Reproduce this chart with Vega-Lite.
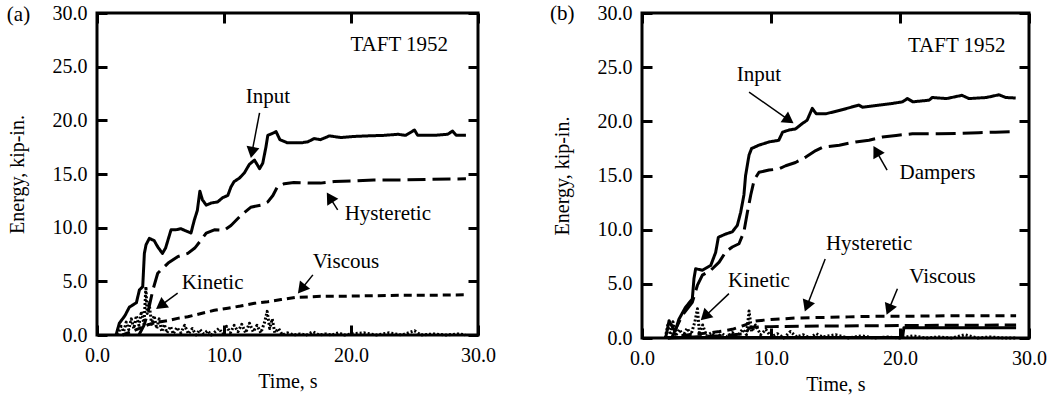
{
"$schema": "https://vega.github.io/schema/vega-lite/v6.json",
"padding": {"left": 5, "top": 1, "right": 5, "bottom": 5},
"background": "white",
"datasets": {
"curves": [
{"p":"a","s":"Input","t":1.5,"E":0},{"p":"a","s":"Input","t":1.76,"E":1.1},{"p":"a","s":"Input","t":2.2,"E":1.8},{"p":"a","s":"Input","t":2.55,"E":2.6},{"p":"a","s":"Input","t":2.82,"E":2.8},{"p":"a","s":"Input","t":3.1,"E":3.0},{"p":"a","s":"Input","t":3.34,"E":4.2},{"p":"a","s":"Input","t":3.6,"E":4.5},{"p":"a","s":"Input","t":3.73,"E":7.6},{"p":"a","s":"Input","t":3.86,"E":8.4},{"p":"a","s":"Input","t":4.12,"E":9.0},{"p":"a","s":"Input","t":4.5,"E":8.8},{"p":"a","s":"Input","t":4.76,"E":8.25},{"p":"a","s":"Input","t":5.15,"E":7.6},{"p":"a","s":"Input","t":5.4,"E":8.1},{"p":"a","s":"Input","t":5.83,"E":9.8},{"p":"a","s":"Input","t":6.2,"E":9.8},{"p":"a","s":"Input","t":6.6,"E":9.9},{"p":"a","s":"Input","t":7.0,"E":9.7},{"p":"a","s":"Input","t":7.4,"E":9.5},{"p":"a","s":"Input","t":7.66,"E":10.7},{"p":"a","s":"Input","t":7.9,"E":11.6},{"p":"a","s":"Input","t":8.1,"E":13.4},{"p":"a","s":"Input","t":8.3,"E":12.6},{"p":"a","s":"Input","t":8.6,"E":12.1},{"p":"a","s":"Input","t":9.0,"E":12.3},{"p":"a","s":"Input","t":9.5,"E":12.4},{"p":"a","s":"Input","t":9.9,"E":12.8},{"p":"a","s":"Input","t":10.3,"E":13.0},{"p":"a","s":"Input","t":10.55,"E":13.8},{"p":"a","s":"Input","t":10.8,"E":14.3},{"p":"a","s":"Input","t":11.2,"E":14.6},{"p":"a","s":"Input","t":11.6,"E":15.1},{"p":"a","s":"Input","t":12.0,"E":15.9},{"p":"a","s":"Input","t":12.4,"E":16.3},{"p":"a","s":"Input","t":12.8,"E":15.5},{"p":"a","s":"Input","t":13.05,"E":16.0},{"p":"a","s":"Input","t":13.3,"E":17.5},{"p":"a","s":"Input","t":13.45,"E":18.6},{"p":"a","s":"Input","t":13.85,"E":18.8},{"p":"a","s":"Input","t":14.1,"E":18.95},{"p":"a","s":"Input","t":14.4,"E":18.2},{"p":"a","s":"Input","t":15.0,"E":17.9},{"p":"a","s":"Input","t":16.05,"E":17.9},{"p":"a","s":"Input","t":16.6,"E":18.0},{"p":"a","s":"Input","t":17.1,"E":18.3},{"p":"a","s":"Input","t":17.6,"E":18.2},{"p":"a","s":"Input","t":18.3,"E":18.55},{"p":"a","s":"Input","t":19.2,"E":18.4},{"p":"a","s":"Input","t":20.3,"E":18.5},{"p":"a","s":"Input","t":21.3,"E":18.55},{"p":"a","s":"Input","t":22.6,"E":18.6},{"p":"a","s":"Input","t":23.7,"E":18.7},{"p":"a","s":"Input","t":24.3,"E":18.6},{"p":"a","s":"Input","t":25.0,"E":19.1},{"p":"a","s":"Input","t":25.25,"E":18.6},{"p":"a","s":"Input","t":26.6,"E":18.6},{"p":"a","s":"Input","t":27.6,"E":18.7},{"p":"a","s":"Input","t":28.0,"E":19.0},{"p":"a","s":"Input","t":28.3,"E":18.6},{"p":"a","s":"Input","t":29.05,"E":18.6},
{"p":"a","s":"Hysteretic","t":3.3,"E":0},{"p":"a","s":"Hysteretic","t":3.7,"E":0.9},{"p":"a","s":"Hysteretic","t":3.99,"E":2.0},{"p":"a","s":"Hysteretic","t":4.4,"E":4.2},{"p":"a","s":"Hysteretic","t":4.78,"E":5.75},{"p":"a","s":"Hysteretic","t":5.6,"E":6.7},{"p":"a","s":"Hysteretic","t":6.35,"E":7.3},{"p":"a","s":"Hysteretic","t":7.15,"E":7.6},{"p":"a","s":"Hysteretic","t":7.7,"E":8.1},{"p":"a","s":"Hysteretic","t":8.2,"E":8.85},{"p":"a","s":"Hysteretic","t":8.6,"E":9.5},{"p":"a","s":"Hysteretic","t":9.24,"E":9.8},{"p":"a","s":"Hysteretic","t":10.0,"E":9.75},{"p":"a","s":"Hysteretic","t":10.55,"E":10.2},{"p":"a","s":"Hysteretic","t":11.3,"E":11.1},{"p":"a","s":"Hysteretic","t":12.1,"E":11.9},{"p":"a","s":"Hysteretic","t":12.9,"E":12.1},{"p":"a","s":"Hysteretic","t":13.45,"E":12.4},{"p":"a","s":"Hysteretic","t":13.85,"E":13.0},{"p":"a","s":"Hysteretic","t":14.2,"E":13.8},{"p":"a","s":"Hysteretic","t":14.75,"E":14.1},{"p":"a","s":"Hysteretic","t":15.5,"E":14.2},{"p":"a","s":"Hysteretic","t":16.6,"E":14.15},{"p":"a","s":"Hysteretic","t":17.6,"E":14.15},{"p":"a","s":"Hysteretic","t":18.7,"E":14.3},{"p":"a","s":"Hysteretic","t":20.3,"E":14.35},{"p":"a","s":"Hysteretic","t":21.8,"E":14.45},{"p":"a","s":"Hysteretic","t":23.9,"E":14.45},{"p":"a","s":"Hysteretic","t":26.0,"E":14.5},{"p":"a","s":"Hysteretic","t":29.05,"E":14.55},
{"p":"a","s":"Viscous","t":2.0,"E":0},{"p":"a","s":"Viscous","t":3.0,"E":0.45},{"p":"a","s":"Viscous","t":4.0,"E":0.95},{"p":"a","s":"Viscous","t":4.8,"E":1.2},{"p":"a","s":"Viscous","t":5.6,"E":1.35},{"p":"a","s":"Viscous","t":6.35,"E":1.55},{"p":"a","s":"Viscous","t":7.15,"E":1.7},{"p":"a","s":"Viscous","t":8.2,"E":2.0},{"p":"a","s":"Viscous","t":9.24,"E":2.3},{"p":"a","s":"Viscous","t":10.3,"E":2.5},{"p":"a","s":"Viscous","t":11.3,"E":2.7},{"p":"a","s":"Viscous","t":12.4,"E":2.95},{"p":"a","s":"Viscous","t":13.45,"E":3.1},{"p":"a","s":"Viscous","t":14.5,"E":3.3},{"p":"a","s":"Viscous","t":15.6,"E":3.5},{"p":"a","s":"Viscous","t":16.6,"E":3.55},{"p":"a","s":"Viscous","t":17.6,"E":3.6},{"p":"a","s":"Viscous","t":18.7,"E":3.6},{"p":"a","s":"Viscous","t":21.3,"E":3.65},{"p":"a","s":"Viscous","t":23.9,"E":3.7},{"p":"a","s":"Viscous","t":26.0,"E":3.7},{"p":"a","s":"Viscous","t":29.05,"E":3.75},
{"p":"a","s":"Kinetic","t":1.6,"E":0},{"p":"a","s":"Kinetic","t":1.9,"E":0.8},{"p":"a","s":"Kinetic","t":2.1,"E":0.3},{"p":"a","s":"Kinetic","t":2.3,"E":1.2},{"p":"a","s":"Kinetic","t":2.5,"E":0.5},{"p":"a","s":"Kinetic","t":2.7,"E":1.5},{"p":"a","s":"Kinetic","t":2.9,"E":0.6},{"p":"a","s":"Kinetic","t":3.1,"E":1.8},{"p":"a","s":"Kinetic","t":3.3,"E":0.9},{"p":"a","s":"Kinetic","t":3.5,"E":2.2},{"p":"a","s":"Kinetic","t":3.7,"E":1.0},{"p":"a","s":"Kinetic","t":3.85,"E":4.5},{"p":"a","s":"Kinetic","t":3.95,"E":2.0},{"p":"a","s":"Kinetic","t":4.1,"E":3.0},{"p":"a","s":"Kinetic","t":4.3,"E":1.0},{"p":"a","s":"Kinetic","t":4.5,"E":1.8},{"p":"a","s":"Kinetic","t":4.7,"E":0.6},{"p":"a","s":"Kinetic","t":4.9,"E":1.5},{"p":"a","s":"Kinetic","t":5.1,"E":0.3},{"p":"a","s":"Kinetic","t":5.3,"E":1.0},{"p":"a","s":"Kinetic","t":5.5,"E":0.2},{"p":"a","s":"Kinetic","t":5.8,"E":0.8},{"p":"a","s":"Kinetic","t":6.0,"E":0.1},{"p":"a","s":"Kinetic","t":6.3,"E":0.7},{"p":"a","s":"Kinetic","t":6.6,"E":0.2},{"p":"a","s":"Kinetic","t":6.9,"E":0.9},{"p":"a","s":"Kinetic","t":7.2,"E":0.1},{"p":"a","s":"Kinetic","t":7.5,"E":0.6},{"p":"a","s":"Kinetic","t":7.8,"E":0.0},{"p":"a","s":"Kinetic","t":8.1,"E":0.5},{"p":"a","s":"Kinetic","t":8.4,"E":0.1},{"p":"a","s":"Kinetic","t":8.7,"E":0.4},{"p":"a","s":"Kinetic","t":9.0,"E":0.0},{"p":"a","s":"Kinetic","t":9.3,"E":0.3},{"p":"a","s":"Kinetic","t":9.6,"E":0.6},{"p":"a","s":"Kinetic","t":9.9,"E":0.1},{"p":"a","s":"Kinetic","t":10.2,"E":0.8},{"p":"a","s":"Kinetic","t":10.5,"E":0.2},{"p":"a","s":"Kinetic","t":10.8,"E":0.9},{"p":"a","s":"Kinetic","t":11.1,"E":0.3},{"p":"a","s":"Kinetic","t":11.4,"E":1.0},{"p":"a","s":"Kinetic","t":11.7,"E":0.2},{"p":"a","s":"Kinetic","t":12.0,"E":1.1},{"p":"a","s":"Kinetic","t":12.3,"E":0.3},{"p":"a","s":"Kinetic","t":12.6,"E":0.9},{"p":"a","s":"Kinetic","t":12.9,"E":0.2},{"p":"a","s":"Kinetic","t":13.2,"E":1.2},{"p":"a","s":"Kinetic","t":13.4,"E":2.2},{"p":"a","s":"Kinetic","t":13.6,"E":0.6},{"p":"a","s":"Kinetic","t":13.8,"E":1.5},{"p":"a","s":"Kinetic","t":14.0,"E":0.2},{"p":"a","s":"Kinetic","t":14.3,"E":0.6},{"p":"a","s":"Kinetic","t":14.6,"E":0.0},{"p":"a","s":"Kinetic","t":15.0,"E":0.2},{"p":"a","s":"Kinetic","t":15.5,"E":0.0},{"p":"a","s":"Kinetic","t":16.0,"E":0.1},{"p":"a","s":"Kinetic","t":16.5,"E":0.0},{"p":"a","s":"Kinetic","t":17.0,"E":0.3},{"p":"a","s":"Kinetic","t":17.5,"E":0.0},{"p":"a","s":"Kinetic","t":18.0,"E":0.1},{"p":"a","s":"Kinetic","t":18.5,"E":0.0},{"p":"a","s":"Kinetic","t":19.0,"E":0.2},{"p":"a","s":"Kinetic","t":19.5,"E":0.0},{"p":"a","s":"Kinetic","t":20.0,"E":0.1},{"p":"a","s":"Kinetic","t":21.0,"E":0.2},{"p":"a","s":"Kinetic","t":22.0,"E":0.0},{"p":"a","s":"Kinetic","t":23.0,"E":0.2},{"p":"a","s":"Kinetic","t":24.0,"E":0.0},{"p":"a","s":"Kinetic","t":25.0,"E":0.4},{"p":"a","s":"Kinetic","t":25.5,"E":0.0},{"p":"a","s":"Kinetic","t":26.5,"E":0.1},{"p":"a","s":"Kinetic","t":27.5,"E":0.0},{"p":"a","s":"Kinetic","t":28.5,"E":0.1},{"p":"a","s":"Kinetic","t":29.0,"E":0.0},
{"p":"b","s":"Input","t":1.83,"E":0},{"p":"b","s":"Input","t":2.1,"E":1.6},{"p":"b","s":"Input","t":2.4,"E":0.9},{"p":"b","s":"Input","t":2.6,"E":0.7},{"p":"b","s":"Input","t":2.85,"E":1.7},{"p":"b","s":"Input","t":3.38,"E":2.85},{"p":"b","s":"Input","t":3.9,"E":3.6},{"p":"b","s":"Input","t":4.03,"E":5.5},{"p":"b","s":"Input","t":4.16,"E":6.4},{"p":"b","s":"Input","t":4.68,"E":6.25},{"p":"b","s":"Input","t":5.33,"E":6.7},{"p":"b","s":"Input","t":5.71,"E":7.9},{"p":"b","s":"Input","t":5.92,"E":9.3},{"p":"b","s":"Input","t":6.49,"E":9.6},{"p":"b","s":"Input","t":7.0,"E":9.8},{"p":"b","s":"Input","t":7.39,"E":10.4},{"p":"b","s":"Input","t":7.65,"E":11.6},{"p":"b","s":"Input","t":7.9,"E":13.2},{"p":"b","s":"Input","t":8.03,"E":15.0},{"p":"b","s":"Input","t":8.3,"E":16.9},{"p":"b","s":"Input","t":8.5,"E":17.5},{"p":"b","s":"Input","t":9.07,"E":17.8},{"p":"b","s":"Input","t":9.85,"E":18.1},{"p":"b","s":"Input","t":10.6,"E":18.25},{"p":"b","s":"Input","t":10.9,"E":19.0},{"p":"b","s":"Input","t":11.4,"E":19.2},{"p":"b","s":"Input","t":11.9,"E":19.3},{"p":"b","s":"Input","t":12.43,"E":19.8},{"p":"b","s":"Input","t":12.8,"E":20.1},{"p":"b","s":"Input","t":13.2,"E":21.2},{"p":"b","s":"Input","t":13.5,"E":20.7},{"p":"b","s":"Input","t":14.25,"E":20.7},{"p":"b","s":"Input","t":15.3,"E":21.0},{"p":"b","s":"Input","t":16.8,"E":21.5},{"p":"b","s":"Input","t":17.1,"E":21.3},{"p":"b","s":"Input","t":18.4,"E":21.5},{"p":"b","s":"Input","t":19.4,"E":21.65},{"p":"b","s":"Input","t":20.2,"E":21.8},{"p":"b","s":"Input","t":20.57,"E":22.1},{"p":"b","s":"Input","t":21.0,"E":21.8},{"p":"b","s":"Input","t":22.25,"E":21.95},{"p":"b","s":"Input","t":22.5,"E":22.2},{"p":"b","s":"Input","t":23.6,"E":22.1},{"p":"b","s":"Input","t":24.8,"E":22.4},{"p":"b","s":"Input","t":25.35,"E":22.1},{"p":"b","s":"Input","t":26.7,"E":22.2},{"p":"b","s":"Input","t":27.67,"E":22.45},{"p":"b","s":"Input","t":28.2,"E":22.2},{"p":"b","s":"Input","t":28.97,"E":22.15},
{"p":"b","s":"Dampers","t":2.3,"E":0},{"p":"b","s":"Dampers","t":2.6,"E":0.8},{"p":"b","s":"Dampers","t":3.12,"E":2.1},{"p":"b","s":"Dampers","t":3.9,"E":3.3},{"p":"b","s":"Dampers","t":4.29,"E":4.85},{"p":"b","s":"Dampers","t":4.68,"E":5.8},{"p":"b","s":"Dampers","t":5.33,"E":6.25},{"p":"b","s":"Dampers","t":5.98,"E":7.0},{"p":"b","s":"Dampers","t":6.49,"E":7.95},{"p":"b","s":"Dampers","t":7.0,"E":8.4},{"p":"b","s":"Dampers","t":7.52,"E":8.7},{"p":"b","s":"Dampers","t":7.9,"E":9.8},{"p":"b","s":"Dampers","t":8.17,"E":11.6},{"p":"b","s":"Dampers","t":8.43,"E":13.2},{"p":"b","s":"Dampers","t":8.7,"E":14.6},{"p":"b","s":"Dampers","t":9.07,"E":15.3},{"p":"b","s":"Dampers","t":9.85,"E":15.5},{"p":"b","s":"Dampers","t":10.6,"E":15.6},{"p":"b","s":"Dampers","t":11.14,"E":15.9},{"p":"b","s":"Dampers","t":11.9,"E":16.2},{"p":"b","s":"Dampers","t":12.7,"E":16.7},{"p":"b","s":"Dampers","t":13.47,"E":17.3},{"p":"b","s":"Dampers","t":13.98,"E":17.6},{"p":"b","s":"Dampers","t":15.3,"E":17.8},{"p":"b","s":"Dampers","t":16.56,"E":18.1},{"p":"b","s":"Dampers","t":17.6,"E":18.25},{"p":"b","s":"Dampers","t":18.64,"E":18.55},{"p":"b","s":"Dampers","t":19.7,"E":18.7},{"p":"b","s":"Dampers","t":20.96,"E":18.85},{"p":"b","s":"Dampers","t":23.0,"E":18.85},{"p":"b","s":"Dampers","t":24.8,"E":18.9},{"p":"b","s":"Dampers","t":26.1,"E":18.95},{"p":"b","s":"Dampers","t":27.4,"E":19.0},{"p":"b","s":"Dampers","t":28.97,"E":19.05},
{"p":"b","s":"Viscous","t":2.0,"E":0},{"p":"b","s":"Viscous","t":3.0,"E":0.2},{"p":"b","s":"Viscous","t":4.0,"E":0.35},{"p":"b","s":"Viscous","t":5.0,"E":0.45},{"p":"b","s":"Viscous","t":6.0,"E":0.6},{"p":"b","s":"Viscous","t":7.0,"E":0.8},{"p":"b","s":"Viscous","t":8.0,"E":1.2},{"p":"b","s":"Viscous","t":8.5,"E":1.5},{"p":"b","s":"Viscous","t":9.0,"E":1.6},{"p":"b","s":"Viscous","t":10.0,"E":1.7},{"p":"b","s":"Viscous","t":12.0,"E":1.85},{"p":"b","s":"Viscous","t":14.0,"E":1.9},{"p":"b","s":"Viscous","t":16.0,"E":1.95},{"p":"b","s":"Viscous","t":18.0,"E":2.0},{"p":"b","s":"Viscous","t":20.0,"E":2.0},{"p":"b","s":"Viscous","t":24.0,"E":2.05},{"p":"b","s":"Viscous","t":29.0,"E":2.05},
{"p":"b","s":"Hysteretic","t":2.0,"E":0},{"p":"b","s":"Hysteretic","t":4.0,"E":0.1},{"p":"b","s":"Hysteretic","t":6.0,"E":0.2},{"p":"b","s":"Hysteretic","t":8.0,"E":0.4},{"p":"b","s":"Hysteretic","t":8.3,"E":0.9},{"p":"b","s":"Hysteretic","t":8.6,"E":1.0},{"p":"b","s":"Hysteretic","t":10.0,"E":1.05},{"p":"b","s":"Hysteretic","t":14.0,"E":1.1},{"p":"b","s":"Hysteretic","t":20.0,"E":1.15},{"p":"b","s":"Hysteretic","t":29.0,"E":1.2},
{"p":"b","s":"Other","t":1.8,"E":0.05},{"p":"b","s":"Other","t":20.2,"E":0.05},{"p":"b","s":"Other","t":20.3,"E":0.95},{"p":"b","s":"Other","t":29.0,"E":0.95},
{"p":"b","s":"Kinetic","t":1.8,"E":0},{"p":"b","s":"Kinetic","t":2.0,"E":1.2},{"p":"b","s":"Kinetic","t":2.2,"E":0.3},{"p":"b","s":"Kinetic","t":2.4,"E":1.5},{"p":"b","s":"Kinetic","t":2.6,"E":0.2},{"p":"b","s":"Kinetic","t":2.9,"E":0.8},{"p":"b","s":"Kinetic","t":3.2,"E":0.2},{"p":"b","s":"Kinetic","t":3.5,"E":0.9},{"p":"b","s":"Kinetic","t":3.8,"E":0.3},{"p":"b","s":"Kinetic","t":4.1,"E":1.5},{"p":"b","s":"Kinetic","t":4.3,"E":2.7},{"p":"b","s":"Kinetic","t":4.45,"E":0.5},{"p":"b","s":"Kinetic","t":4.7,"E":1.2},{"p":"b","s":"Kinetic","t":5.0,"E":0.2},{"p":"b","s":"Kinetic","t":5.4,"E":0.5},{"p":"b","s":"Kinetic","t":5.8,"E":0.1},{"p":"b","s":"Kinetic","t":6.2,"E":0.4},{"p":"b","s":"Kinetic","t":6.6,"E":0.1},{"p":"b","s":"Kinetic","t":7.0,"E":0.5},{"p":"b","s":"Kinetic","t":7.4,"E":0.2},{"p":"b","s":"Kinetic","t":7.8,"E":0.8},{"p":"b","s":"Kinetic","t":8.1,"E":0.3},{"p":"b","s":"Kinetic","t":8.3,"E":2.5},{"p":"b","s":"Kinetic","t":8.5,"E":0.6},{"p":"b","s":"Kinetic","t":8.8,"E":1.2},{"p":"b","s":"Kinetic","t":9.2,"E":0.3},{"p":"b","s":"Kinetic","t":9.6,"E":0.8},{"p":"b","s":"Kinetic","t":10.0,"E":0.1},{"p":"b","s":"Kinetic","t":10.5,"E":0.4},{"p":"b","s":"Kinetic","t":11.0,"E":0.0},{"p":"b","s":"Kinetic","t":11.5,"E":0.6},{"p":"b","s":"Kinetic","t":12.0,"E":0.1},{"p":"b","s":"Kinetic","t":12.5,"E":0.3},{"p":"b","s":"Kinetic","t":13.0,"E":0.0},{"p":"b","s":"Kinetic","t":13.5,"E":0.4},{"p":"b","s":"Kinetic","t":14.0,"E":0.1},{"p":"b","s":"Kinetic","t":15.0,"E":0.3},{"p":"b","s":"Kinetic","t":16.0,"E":0.0},{"p":"b","s":"Kinetic","t":17.0,"E":0.2},{"p":"b","s":"Kinetic","t":18.0,"E":0.0},{"p":"b","s":"Kinetic","t":19.0,"E":0.1},{"p":"b","s":"Kinetic","t":20.0,"E":0.0},{"p":"b","s":"Kinetic","t":21.0,"E":0.2},{"p":"b","s":"Kinetic","t":22.0,"E":0.0},{"p":"b","s":"Kinetic","t":23.0,"E":0.1},{"p":"b","s":"Kinetic","t":24.0,"E":0.0},{"p":"b","s":"Kinetic","t":25.0,"E":0.3},{"p":"b","s":"Kinetic","t":26.0,"E":0.0},{"p":"b","s":"Kinetic","t":27.0,"E":0.1},{"p":"b","s":"Kinetic","t":28.0,"E":0.0},{"p":"b","s":"Kinetic","t":29.0,"E":0.0}
],
"notes": [
{"p":"a","label":"(a)","t":-6.18,"E":29.8},{"p":"a","label":"TAFT 1952","t":23.8,"E":27.0},{"p":"a","label":"Input","t":13.45,"E":22.2},{"p":"a","label":"Hysteretic","t":22.9,"E":11.3},{"p":"a","label":"Viscous","t":19.6,"E":6.8},{"p":"a","label":"Kinetic","t":9.1,"E":4.8},
{"p":"b","label":"(b)","t":-6.18,"E":29.95},{"p":"b","label":"TAFT 1952","t":24.4,"E":27.0},{"p":"b","label":"Input","t":9.07,"E":24.3},{"p":"b","label":"Dampers","t":22.9,"E":15.2},{"p":"b","label":"Hysteretic","t":17.6,"E":8.7},{"p":"b","label":"Viscous","t":23.3,"E":5.6},{"p":"b","label":"Kinetic","t":9.07,"E":5.3}
],
"arrows": [
{"p":"a","label":"Input","t":12.8,"E":20.7,"t2":12.2,"E2":17.0},{"p":"a","label":"Hysteretic","t":18.95,"E":11.65,"t2":18.33,"E2":12.82},{"p":"a","label":"Viscous","t":17.0,"E":5.6,"t2":16.1,"E2":4.28},{"p":"a","label":"Kinetic","t":6.35,"E":3.9,"t2":5.01,"E2":2.74},
{"p":"b","label":"Input","t":8.3,"E":22.7,"t2":11.39,"E2":20.12},{"p":"b","label":"Dampers","t":19.0,"E":15.5,"t2":18.16,"E2":17.26},{"p":"b","label":"Hysteretic","t":14.2,"E":7.3,"t2":12.78,"E2":2.94},{"p":"b","label":"Viscous","t":19.8,"E":4.55,"t2":19.13,"E2":2.62},{"p":"b","label":"Kinetic","t":6.74,"E":4.1,"t2":4.87,"E2":1.99}
]
},
"hconcat": [
{
"width": 381, "height": 322,
"layer": [
{
"data": {"name": "curves"},
"transform": [{"filter": "datum.p === 'a'"}],
"mark": {"type": "line", "color": "black", "strokeJoin": "round"},
"encoding": {
"x": {"field": "t", "type": "quantitative", "scale": {"domain": [0, 30], "nice": false, "zero": false},
 "axis": {"title": "Time, s", "values": [0, 10, 20, 30], "format": ".1f", "labelPadding": 10, "titlePadding": 6,
 "gridDash": [10, 302, 10, 1000]}},
"y": {"field": "E", "type": "quantitative", "scale": {"domain": [0, 30], "nice": false},
 "axis": {"title": "Energy, kip-in.", "values": [0, 2.5, 5, 7.5, 10, 12.5, 15, 17.5, 20, 22.5, 25, 27.5, 30],
 "labelExpr": "datum.value % 5 === 0 ? format(datum.value, '.1f') : ''", "labelPadding": 10, "titlePadding": 25,
 "gridDash": {"condition": {"test": "datum.value % 5 === 0", "value": [10, 361, 10, 1000]}, "value": [5, 371, 5, 1000]}}},
"strokeDash": {"field": "s", "type": "nominal", "legend": null,
 "scale": {"domain": ["Input", "Hysteretic", "Viscous", "Kinetic"], "range": [[1, 0], [18, 7], [8, 5], [2, 2]]}},
"strokeWidth": {"field": "s", "type": "ordinal", "legend": null,
 "scale": {"domain": ["Input", "Hysteretic", "Viscous", "Kinetic"], "range": [3, 3, 3, 2.5]}}
}
},
{
"data": {"name": "notes"},
"transform": [{"filter": "datum.p === 'a'"}],
"mark": {"type": "text", "font": "Liberation Serif", "fontSize": 21, "color": "black", "align": "center", "baseline": "middle"},
"encoding": {"x": {"field": "t", "type": "quantitative"}, "y": {"field": "E", "type": "quantitative"}, "text": {"field": "label"}}
},
{
"data": {"name": "arrows"},
"transform": [{"filter": "datum.p === 'a'"}],
"mark": {"type": "rule", "color": "black", "strokeWidth": 1.5},
"encoding": {"x": {"field": "t", "type": "quantitative"}, "y": {"field": "E", "type": "quantitative"}, "x2": {"field": "t2"}, "y2": {"field": "E2"}}
},
{"data": {"name": "arrows"}, "transform": [{"filter": "datum.p === 'a' && datum.label === 'Input'"}],
 "mark": {"type": "point", "shape": "triangle-up", "filled": true, "color": "black", "opacity": 1, "size": 170, "angle": 190.7},
 "encoding": {"x": {"field": "t2", "type": "quantitative"}, "y": {"field": "E2", "type": "quantitative"}}},
{"data": {"name": "arrows"}, "transform": [{"filter": "datum.p === 'a' && datum.label === 'Hysteretic'"}],
 "mark": {"type": "point", "shape": "triangle-up", "filled": true, "color": "black", "opacity": 1, "size": 170, "angle": -32},
 "encoding": {"x": {"field": "t2", "type": "quantitative"}, "y": {"field": "E2", "type": "quantitative"}}},
{"data": {"name": "arrows"}, "transform": [{"filter": "datum.p === 'a' && datum.label === 'Viscous'"}],
 "mark": {"type": "point", "shape": "triangle-up", "filled": true, "color": "black", "opacity": 1, "size": 170, "angle": -141},
 "encoding": {"x": {"field": "t2", "type": "quantitative"}, "y": {"field": "E2", "type": "quantitative"}}},
{"data": {"name": "arrows"}, "transform": [{"filter": "datum.p === 'a' && datum.label === 'Kinetic'"}],
 "mark": {"type": "point", "shape": "triangle-up", "filled": true, "color": "black", "opacity": 1, "size": 170, "angle": -126},
 "encoding": {"x": {"field": "t2", "type": "quantitative"}, "y": {"field": "E2", "type": "quantitative"}}}
]
},
{
"width": 387, "height": 325,
"layer": [
{
"data": {"name": "curves"},
"transform": [{"filter": "datum.p === 'b'"}],
"mark": {"type": "line", "color": "black", "strokeJoin": "round"},
"encoding": {
"x": {"field": "t", "type": "quantitative", "scale": {"domain": [0, 30], "nice": false, "zero": false},
 "axis": {"title": "Time, s", "values": [0, 10, 20, 30], "format": ".1f", "labelPadding": 10, "titlePadding": 6,
 "gridDash": [10, 305, 10, 1000]}},
"y": {"field": "E", "type": "quantitative", "scale": {"domain": [0, 30], "nice": false},
 "axis": {"title": "Energy, kip-in.", "values": [0, 2.5, 5, 7.5, 10, 12.5, 15, 17.5, 20, 22.5, 25, 27.5, 30],
 "labelExpr": "datum.value % 5 === 0 ? format(datum.value, '.1f') : ''", "labelPadding": 10, "titlePadding": 25,
 "gridDash": {"condition": {"test": "datum.value % 5 === 0", "value": [10, 367, 10, 1000]}, "value": [5, 377, 5, 1000]}}},
"strokeDash": {"field": "s", "type": "nominal", "legend": null,
 "scale": {"domain": ["Input", "Dampers", "Hysteretic", "Viscous", "Kinetic", "Other"], "range": [[1, 0], [20, 7], [14, 6], [9, 6], [2, 2], [1, 0]]}},
"strokeWidth": {"field": "s", "type": "ordinal", "legend": null,
 "scale": {"domain": ["Input", "Dampers", "Hysteretic", "Viscous", "Kinetic", "Other"], "range": [3, 3, 3, 3, 2.5, 2]}}
}
},
{
"data": {"name": "notes"},
"transform": [{"filter": "datum.p === 'b'"}],
"mark": {"type": "text", "font": "Liberation Serif", "fontSize": 21, "color": "black", "align": "center", "baseline": "middle"},
"encoding": {"x": {"field": "t", "type": "quantitative"}, "y": {"field": "E", "type": "quantitative"}, "text": {"field": "label"}}
},
{
"data": {"name": "arrows"},
"transform": [{"filter": "datum.p === 'b'"}],
"mark": {"type": "rule", "color": "black", "strokeWidth": 1.5},
"encoding": {"x": {"field": "t", "type": "quantitative"}, "y": {"field": "E", "type": "quantitative"}, "x2": {"field": "t2"}, "y2": {"field": "E2"}}
},
{"data": {"name": "arrows"}, "transform": [{"filter": "datum.p === 'b' && datum.label === 'Input'"}],
 "mark": {"type": "point", "shape": "triangle-up", "filled": true, "color": "black", "opacity": 1, "size": 170, "angle": 125},
 "encoding": {"x": {"field": "t2", "type": "quantitative"}, "y": {"field": "E2", "type": "quantitative"}}},
{"data": {"name": "arrows"}, "transform": [{"filter": "datum.p === 'b' && datum.label === 'Dampers'"}],
 "mark": {"type": "point", "shape": "triangle-up", "filled": true, "color": "black", "opacity": 1, "size": 170, "angle": -29.7},
 "encoding": {"x": {"field": "t2", "type": "quantitative"}, "y": {"field": "E2", "type": "quantitative"}}},
{"data": {"name": "arrows"}, "transform": [{"filter": "datum.p === 'b' && datum.label === 'Hysteretic'"}],
 "mark": {"type": "point", "shape": "triangle-up", "filled": true, "color": "black", "opacity": 1, "size": 170, "angle": -158.8},
 "encoding": {"x": {"field": "t2", "type": "quantitative"}, "y": {"field": "E2", "type": "quantitative"}}},
{"data": {"name": "arrows"}, "transform": [{"filter": "datum.p === 'b' && datum.label === 'Viscous'"}],
 "mark": {"type": "point", "shape": "triangle-up", "filled": true, "color": "black", "opacity": 1, "size": 170, "angle": -157.7},
 "encoding": {"x": {"field": "t2", "type": "quantitative"}, "y": {"field": "E2", "type": "quantitative"}}},
{"data": {"name": "arrows"}, "transform": [{"filter": "datum.p === 'b' && datum.label === 'Kinetic'"}],
 "mark": {"type": "point", "shape": "triangle-up", "filled": true, "color": "black", "opacity": 1, "size": 170, "angle": -133.5},
 "encoding": {"x": {"field": "t2", "type": "quantitative"}, "y": {"field": "E2", "type": "quantitative"}}}
]
}
],
"spacing": 51,
"resolve": {"scale": {"x": "independent", "y": "independent", "strokeDash": "independent", "strokeWidth": "independent"}},
"config": {
"view": {"stroke": "black", "strokeWidth": 3},
"font": "Liberation Serif",
"axis": {"labelFont": "Liberation Serif", "labelFontSize": 20, "labelColor": "black", "titleFont": "Liberation Serif", "titleFontSize": 20, "titleFontWeight": "normal", "titleColor": "black",
 "ticks": false, "domain": false, "grid": true, "gridColor": "black", "gridWidth": 3, "gridOpacity": 1, "labelFlush": false, "labelOverlap": false}
}
}
